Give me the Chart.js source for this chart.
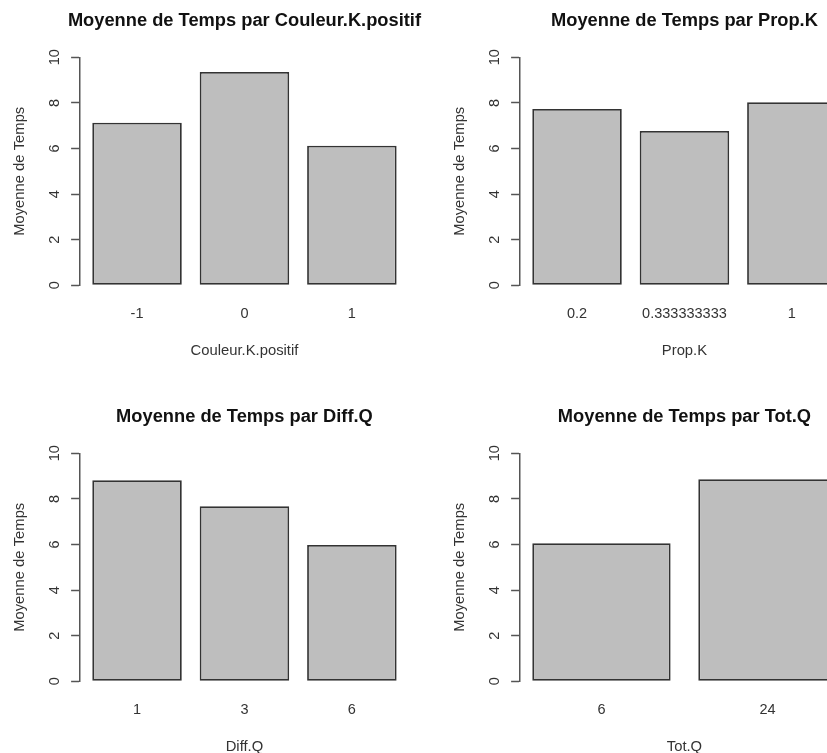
<!DOCTYPE html>
<html>
<head>
<meta charset="utf-8">
<script src="https://cdn.jsdelivr.net/npm/chart.js@4/dist/chart.umd.min.js"></script>
<style>
  html, body { margin: 0; padding: 0; background: #fff; }
  body { width: 827px; height: 753px; overflow: hidden; position: relative; }
  .panel { position: absolute; width: 440px; height: 396px; }
</style>
</head>
<body>
<div class="panel" style="left:0;top:0"><canvas id="c1" width="440" height="396"></canvas></div>
<div class="panel" style="left:440px;top:0"><canvas id="c2" width="440" height="396"></canvas></div>
<div class="panel" style="left:0;top:396px"><canvas id="c3" width="440" height="396"></canvas></div>
<div class="panel" style="left:440px;top:396px"><canvas id="c4" width="440" height="396"></canvas></div>
<script>
// valeurs
const couleurLabels = ["-1", "0", "1"];
const couleurTemps = [7.13, 9.36, 6.12];

const propLabels = ["0.2", "0.333333333", "1"];
const propTemps = [7.73, 6.77, 8.03];

const diffLabels = ["1", "3", "6"];
const diffTemps = [8.82, 7.68, 5.98];

const totLabels = ["6", "24"];
const totTemps = [6.06, 8.86];

const yTicks = [0, 2, 4, 6, 8, 10];

const police = "'Liberation Sans', Arial, sans-serif";

// titre centré sur la zone du graphique, sans compression (comme main= dans R)
const titreR = {
    id: "titreR",
    afterDraw(chart, args, opts){
        const {ctx, chartArea} = chart;
        ctx.save();
        ctx.font = "bold 18.3px " + police;
        ctx.fillStyle = "#111";
        ctx.textAlign = "center";
        ctx.textBaseline = "middle";
        ctx.fillText(opts.texte, (chartArea.left + chartArea.right) / 2, 21.3);
        ctx.restore();
    }
};

function barplot(id, titre, nomX, noms, valeurs){
    // positions comme barplot() de R : largeur 1, espace 0.2
    const centres = noms.map((n, i) => 0.7 + 1.2 * i);
    const lo = 0.2, hi = 1.2 * noms.length;
    const marge = 0.04 * (hi - lo);

    new Chart(document.getElementById(id), {
        type: "bar",
        data: {
            datasets: [{
                data: centres.map((x, i) => ({x: x, y: valeurs[i]})),
                backgroundColor: "#bebebe",
                borderColor: "#333",
                borderWidth: 1.8,
                borderSkipped: false,
                categoryPercentage: 1,
                barPercentage: 1 / 1.2
            }]
        },
        plugins: [titreR],
        options: {
            responsive: false,
            animation: false,
            events: [],
            layout: { padding: { left: 0, right: 31.2, top: 57.3, bottom: 30.7 } },
            plugins: {
                legend: { display: false },
                tooltip: { enabled: false },
                title: { display: false },
                titreR: { texte: titre }
            },
            scales: {
                x: {
                    type: "linear",
                    offset: false,
                    min: lo - marge,
                    max: hi + marge,
                    afterBuildTicks: axe => { axe.ticks = centres.map(v => ({value: v})); },
                    afterFit: axe => { axe.height = 80; },
                    grid: { display: false, drawTicks: false },
                    border: { display: false },
                    ticks: {
                        padding: 19.6,
                        maxRotation: 0,
                        autoSkip: false,
                        color: "#333",
                        font: { family: police, size: 14.5 },
                        callback: (v, i) => noms[i]
                    },
                    title: {
                        display: true,
                        text: nomX,
                        color: "#333",
                        font: { family: police, size: 14.8 },
                        padding: { top: 0, bottom: 5.6 }
                    }
                },
                y: {
                    min: 0,
                    max: 10,
                    afterBuildTicks: axe => { axe.ticks = yTicks.map(v => ({value: v})); },
                    afterFit: axe => { axe.width = 80.1; },
                    grid: {
                        drawOnChartArea: false,
                        drawTicks: true,
                        tickLength: 9,
                        tickColor: "#555",
                        tickWidth: 1.5
                    },
                    border: { display: true, color: "#555", width: 1.5 },
                    ticks: {
                        minRotation: 90,
                        maxRotation: 90,
                        crossAlign: "center",
                        padding: 7.6,
                        color: "#333",
                        font: { family: police, size: 14.5 }
                    },
                    title: {
                        display: true,
                        text: "Moyenne de Temps",
                        color: "#333",
                        font: { family: police, size: 14.8 },
                        padding: { top: 10.8, bottom: 0 }
                    }
                }
            }
        }
    });
}

barplot("c1", "Moyenne de Temps par Couleur.K.positif", "Couleur.K.positif", couleurLabels, couleurTemps);
barplot("c2", "Moyenne de Temps par Prop.K", "Prop.K", propLabels, propTemps);
barplot("c3", "Moyenne de Temps par Diff.Q", "Diff.Q", diffLabels, diffTemps);
barplot("c4", "Moyenne de Temps par Tot.Q", "Tot.Q", totLabels, totTemps);
</script>
</body>
</html>
